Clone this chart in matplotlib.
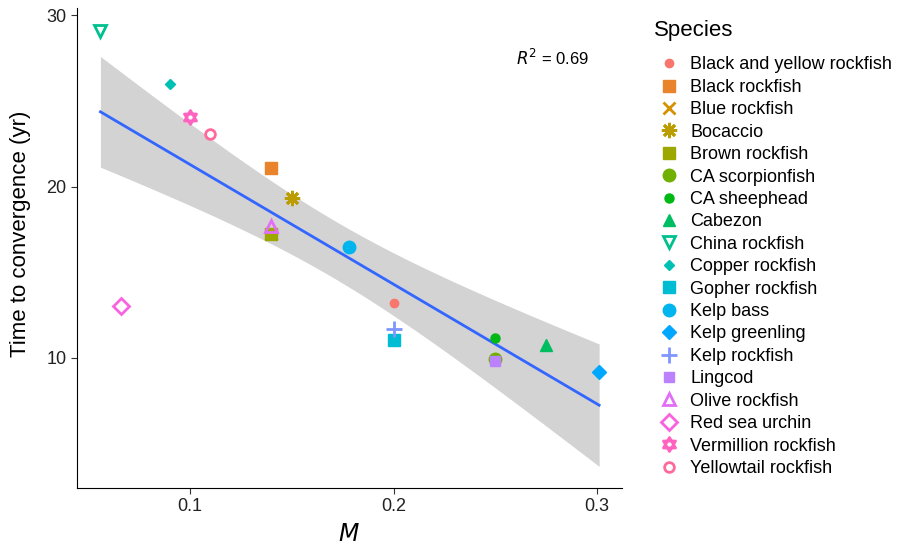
import numpy as np
import matplotlib.pyplot as plt
from matplotlib.path import Path

plt.rcParams['font.family'] = ['Liberation Sans', 'DejaVu Sans']

species = ["Black and yellow rockfish", "Black rockfish", "Blue rockfish", "Bocaccio",
           "Brown rockfish", "CA scorpionfish", "CA sheephead", "Cabezon", "China rockfish",
           "Copper rockfish", "Gopher rockfish", "Kelp bass", "Kelp greenling", "Kelp rockfish",
           "Lingcod", "Olive rockfish", "Red sea urchin", "Vermillion rockfish", "Yellowtail rockfish"]
M_vals = [0.200, 0.140, 0.140, 0.150, 0.140, 0.250, 0.250, 0.275, 0.056, 0.090,
          0.200, 0.178, 0.301, 0.200, 0.250, 0.140, 0.066, 0.100, 0.110]
t_conv = [13.2, 21.1, 17.25, 19.35, 17.25, 9.95, 11.15, 10.75, 29.1, 26.0,
          11.05, 16.45, 9.15, 11.7, 9.8, 17.7, 13.0, 24.05, 23.1]
r2_text = "$R^2$ = 0.69"


def hue_pal(n):
    # ggplot2 default hue palette (HCL, l=65, c=100)
    hues = np.linspace(15, 375, n + 1)[:-1]
    L, C = 65.0, 100.0
    Xn, Yn, Zn = 95.047, 100.0, 108.883
    un = 4 * Xn / (Xn + 15 * Yn + 3 * Zn)
    vn = 9 * Yn / (Xn + 15 * Yn + 3 * Zn)
    Y = Yn * ((L + 16) / 116) ** 3
    out = []
    for h in hues:
        u = C * np.cos(np.radians(h))
        v = C * np.sin(np.radians(h))
        up = u / (13 * L) + un
        vp = v / (13 * L) + vn
        X = Y * 9 * up / (4 * vp)
        Z = Y * (12 - 3 * up - 20 * vp) / (4 * vp)
        xyz = np.array([X, Y, Z]) / 100
        m = np.array([[3.240479, -1.537150, -0.498535],
                      [-0.969256, 1.875992, 0.041556],
                      [0.055648, -0.204043, 1.057311]])
        rgb = m @ xyz
        rgb = np.where(rgb <= 0.0031308, 12.92 * rgb, 1.055 * np.clip(rgb, 0, None) ** (1 / 2.4) - 0.055)
        out.append(tuple(np.clip(rgb, 0, 1)))
    return out


colors = hue_pal(len(species))

# star of David marker
tri_up = [(0, 1), (-0.866, -0.5), (0.866, -0.5), (0, 1)]
tri_dn = [(0, -1), (-0.866, 0.5), (0.866, 0.5), (0, -1)]
star = Path(tri_up + tri_dn,
            [Path.MOVETO, Path.LINETO, Path.LINETO, Path.CLOSEPOLY] * 2)

# marker, size, filled
styles = [('o', 6, True), ('s', 8, True), ('x', 8, False), ((8, 2, 0), 11, False),
          ('s', 8, True), ('o', 9, True), ('o', 6.5, True), ('^', 8, True),
          ('v', 8, False), ('D', 5, True), ('s', 8, True), ('o', 9, True),
          ('D', 7.5, True), ('+', 11, False), ('s', 7, True), ('^', 8, False),
          ('D', 8, False), (star, 10, False), ('o', 7, False)]

fig = plt.figure(figsize=(9, 5.48), dpi=100)
ax = fig.add_axes([0.0856, 0.1095, 0.605, 0.875])

# linear fit with 95% confidence band
x = np.array(M_vals)
y = np.array(t_conv)
n = len(x)
b1, b0 = np.polyfit(x, y, 1)
res = y - (b0 + b1 * x)
s = np.sqrt(np.sum(res ** 2) / (n - 2))
xs = np.linspace(x.min(), x.max(), 100)
ys = b0 + b1 * xs
se = s * np.sqrt(1 / n + (xs - x.mean()) ** 2 / np.sum((x - x.mean()) ** 2))
tq = 2.11
ax.fill_between(xs, ys - tq * se, ys + tq * se, color='#d3d3d3', lw=0, zorder=1)
ax.plot(xs, ys, color='#3366FF', lw=2, zorder=2)

handles = []
for i, sp in enumerate(species):
    mk, ms, filled = styles[i]
    c = colors[i]
    if filled:
        h, = ax.plot(M_vals[i], t_conv[i], ls='none', marker=mk, ms=ms, mfc=c, mec=c,
                     mew=1, zorder=3, label=sp)
    else:
        h, = ax.plot(M_vals[i], t_conv[i], ls='none', marker=mk, ms=ms, mfc='none', mec=c,
                     mew=2, zorder=3, label=sp)
    handles.append(h)

ax.text(0.278, 27.5, r2_text, fontsize=12, ha='center', va='center')

ax.set_xlim(0.0445, 0.312)
ax.set_ylim(2.4, 30.4)
ax.set_xticks([0.1, 0.2, 0.3])
ax.set_yticks([10, 20, 30])
ax.tick_params(labelsize=13, length=4, color='#333333', labelcolor='#222222')
for sp in ['top', 'right']:
    ax.spines[sp].set_visible(False)
ax.set_xlabel('$M$', fontsize=17, labelpad=6)
ax.set_ylabel('Time to convergence (yr)', fontsize=16)
ax.yaxis.set_label_coords(-0.085, 0.53)

fig.text(0.727, 0.945, 'Species', fontsize=16, ha='left', va='center')
fig.legend(handles=handles, labels=species, loc='upper left',
           bbox_to_anchor=(0.7167, 0.92), frameon=False, fontsize=13,
           labelspacing=0.30, handletextpad=0.6, handlelength=1.2, borderpad=0.2)

fig.savefig('out.png', dpi=100)
